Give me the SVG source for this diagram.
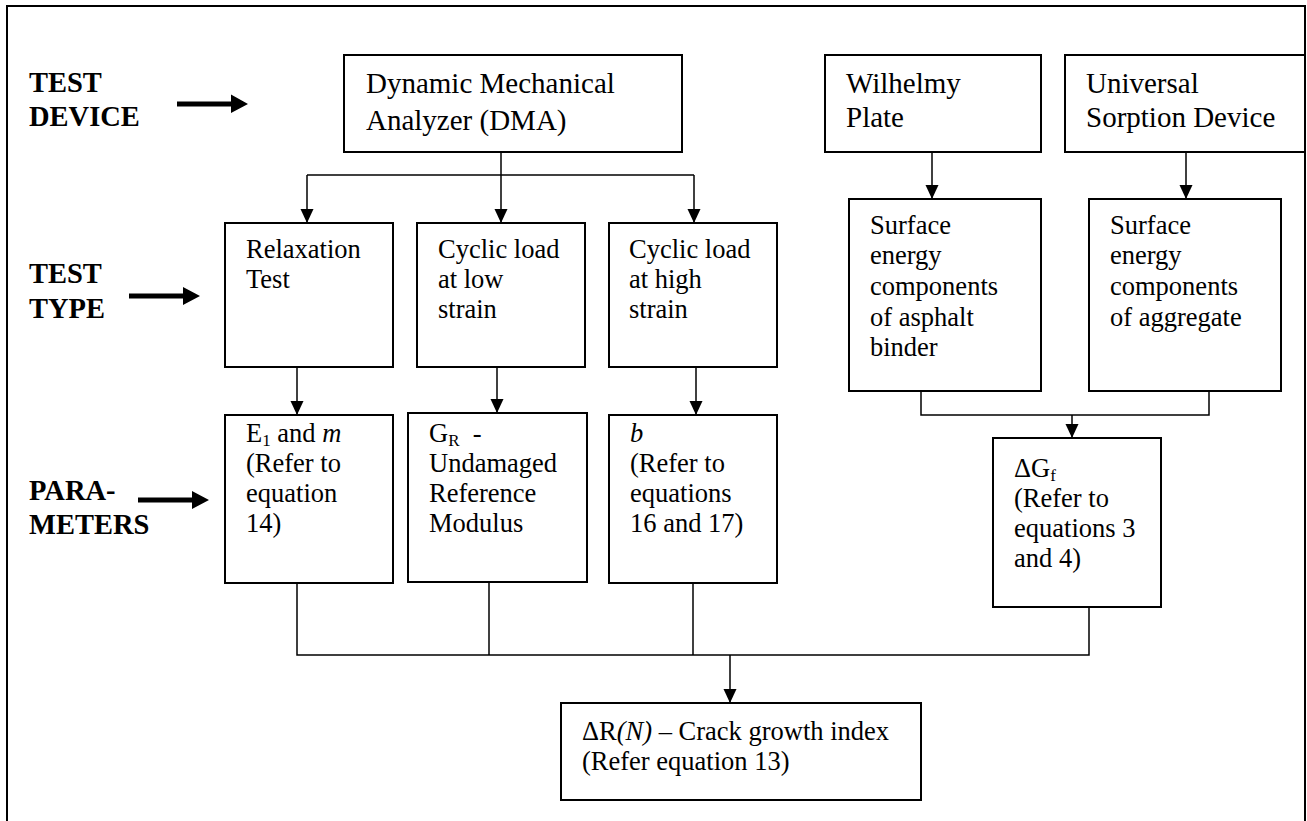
<svg xmlns="http://www.w3.org/2000/svg" width="1307" height="821" viewBox="0 0 1307 821">
<style>
.box{fill:#fff;stroke:#000;stroke-width:2}
.t{fill:#000;font-size:26.5px}
.tl{font-size:29px}
.lab{font-weight:bold;font-size:28.5px;fill:#000}
.c{fill:none;stroke:#000;stroke-width:1.5}
.ca{fill:none;stroke:#000;stroke-width:1.5;marker-end:url(#ah)}
.it{font-style:italic}
.sub{font-size:17px}
</style>
<defs>
<marker id="ah" markerUnits="userSpaceOnUse" markerWidth="14" markerHeight="14" refX="14" refY="6.5" orient="auto" viewBox="0 0 14 13">
<path d="M0,0 L14,6.5 L0,13 z" fill="#000"/>
</marker>
</defs>
<rect x="7" y="6" width="1298" height="830" fill="#fff" stroke="#000" stroke-width="2"/>

<g font-family="'Liberation Serif', 'DejaVu Serif', serif">
<g id="labels">
<text class="lab" x="29" y="92">TEST</text>
<text class="lab" x="29" y="126">DEVICE</text>
<text class="lab" x="29" y="283">TEST</text>
<text class="lab" x="29" y="318">TYPE</text>
<text class="lab" x="29" y="500">PARA-</text>
<text class="lab" x="29" y="534">METERS</text>
<path d="M177,101.5 H231 V94.5 L248,104 L231,113 V106.5 H177 z" fill="#000"/>
<path d="M129,293.5 H183 V287 L200,296 L183,305 V298.5 H129 z" fill="#000"/>
<path d="M138,497.5 H192 V491 L209,500 L192,509 V502.5 H138 z" fill="#000"/>
</g>

<g id="connectors">
<path class="c" d="M501,152 V175"/>
<path class="ca" d="M501,175 V223"/>
<path class="c" d="M307,175 H694"/>
<path class="ca" d="M307,175 V223"/>
<path class="ca" d="M694,175 V223"/>
<path class="ca" d="M932,152 V199"/>
<path class="ca" d="M1186,152 V199"/>
<path class="c" d="M921,391 V415 H1209 V391"/>
<path class="ca" d="M1072,415 V438"/>
<path class="ca" d="M297,367 V415"/>
<path class="ca" d="M497,367 V413"/>
<path class="ca" d="M696,367 V415"/>
<path class="c" d="M297,583 V655 H1089 V607"/>
<path class="c" d="M489,582 V655"/>
<path class="c" d="M693,583 V655"/>
<path class="ca" d="M730,655 V703"/>
</g>

<g id="dma">
<rect class="box" x="344" y="55" width="338" height="97"/>
<text class="t tl" x="366" y="93">Dynamic Mechanical</text>
<text class="t tl" x="366" y="130">Analyzer (DMA)</text>
</g>
<g id="wilhelmy">
<rect class="box" x="825" y="55" width="216" height="97"/>
<text class="t tl" x="846" y="93">Wilhelmy</text>
<text class="t tl" x="846" y="127">Plate</text>
</g>
<g id="universal">
<rect class="box" x="1065" y="55" width="240" height="97"/>
<text class="t tl" x="1086" y="93">Universal</text>
<text class="t tl" x="1086" y="127">Sorption Device</text>
</g>

<g id="relaxation">
<rect class="box" x="225" y="223" width="168" height="144"/>
<text class="t" x="246" y="258">Relaxation</text>
<text class="t" x="246" y="288">Test</text>
</g>
<g id="cyclic-low">
<rect class="box" x="417" y="223" width="168" height="144"/>
<text class="t" x="438" y="258">Cyclic load</text>
<text class="t" x="438" y="288">at low</text>
<text class="t" x="438" y="318">strain</text>
</g>
<g id="cyclic-high">
<rect class="box" x="609" y="223" width="168" height="144"/>
<text class="t" x="629" y="258">Cyclic load</text>
<text class="t" x="629" y="288">at high</text>
<text class="t" x="629" y="318">strain</text>
</g>

<g id="surface-binder">
<rect class="box" x="849" y="199" width="192" height="192"/>
<text class="t" x="870" y="234">Surface</text>
<text class="t" x="870" y="264">energy</text>
<text class="t" x="870" y="295">components</text>
<text class="t" x="870" y="326">of asphalt</text>
<text class="t" x="870" y="356">binder</text>
</g>
<g id="surface-aggregate">
<rect class="box" x="1089" y="199" width="192" height="192"/>
<text class="t" x="1110" y="234">Surface</text>
<text class="t" x="1110" y="264">energy</text>
<text class="t" x="1110" y="295">components</text>
<text class="t" x="1110" y="326">of aggregate</text>
</g>

<g id="e1-m">
<rect class="box" x="225" y="415" width="168" height="168"/>
<text class="t" x="246" y="442">E<tspan class="sub" dy="4">1</tspan><tspan dy="-4"> and </tspan><tspan class="it">m</tspan></text>
<text class="t" x="246" y="472">(Refer to</text>
<text class="t" x="246" y="502">equation</text>
<text class="t" x="246" y="532">14)</text>
</g>
<g id="gr">
<rect class="box" x="408" y="413" width="179" height="169"/>
<text class="t" x="429" y="442">G<tspan class="sub" dy="4">R</tspan><tspan dy="-4">&#160; -</tspan></text>
<text class="t" x="429" y="472">Undamaged</text>
<text class="t" x="429" y="502">Reference</text>
<text class="t" x="429" y="532">Modulus</text>
</g>
<g id="b">
<rect class="box" x="609" y="415" width="168" height="168"/>
<text class="t it" x="630" y="442">b</text>
<text class="t" x="630" y="472">(Refer to</text>
<text class="t" x="630" y="502">equations</text>
<text class="t" x="630" y="532">16 and 17)</text>
</g>
<g id="delta-gf">
<rect class="box" x="993" y="438" width="168" height="169"/>
<text class="t" x="1014" y="477">ΔG<tspan class="sub" dy="4">f</tspan></text>
<text class="t" x="1014" y="507">(Refer to</text>
<text class="t" x="1014" y="537">equations 3</text>
<text class="t" x="1014" y="567">and 4)</text>
</g>
<g id="crack-growth">
<rect class="box" x="561" y="703" width="360" height="97"/>
<text class="t" x="582" y="740">ΔR<tspan class="it">(N)</tspan> – Crack growth index</text>
<text class="t" x="582" y="770">(Refer equation 13)</text>
</g>
</g>
</svg>
